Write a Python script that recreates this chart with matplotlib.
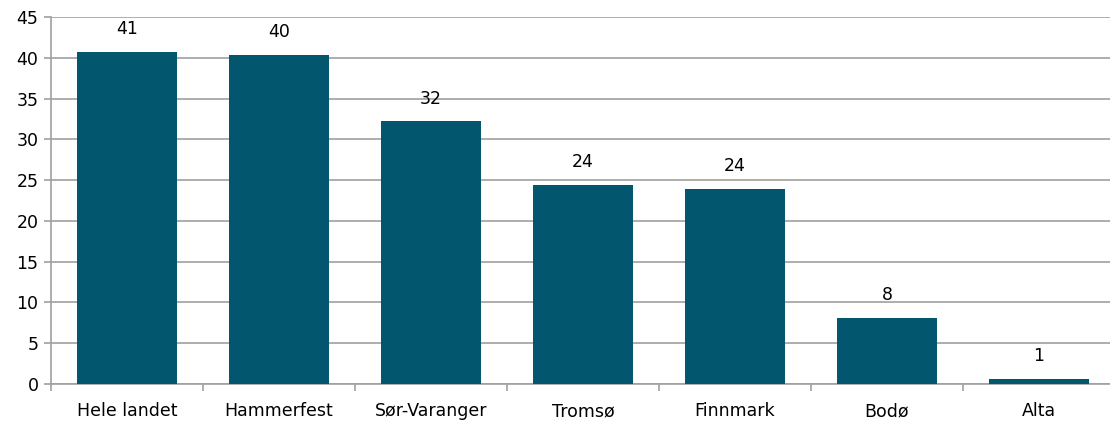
import numpy as np
import matplotlib.pyplot as plt

# Data
categories = ['Hele landet', 'Hammerfest', 'Sør-Varanger', 'Tromsø', 'Finnmark', 'Bodø', 'Alta']
values = [40.7, 40.3, 32.2, 24.4, 23.9, 8.1, 0.6]

plt.rcParams['font.family'] = ['DejaVu Sans']
plt.rcParams['font.size'] = 12.5

fig = plt.figure(figsize=(11.1, 4.23), dpi=100)
ax = fig.add_axes([51 / 1110, 1 - 384 / 423, 1064 / 1110, 367 / 423])

x = np.arange(len(categories))
bars = ax.bar(x, values, width=0.66, color='#02566E', zorder=3)

for xi, v in zip(x, values):
    ax.annotate(f'{v:.0f}', (xi, v), xytext=(0, 10), textcoords='offset points',
                ha='center', va='bottom')

ax.set_xlim(-0.5, len(categories) - 0.5)
ax.set_ylim(0, 45)
ax.set_yticks(np.arange(0, 46, 5))
ax.yaxis.grid(True, color='#A0A0A0', linewidth=1.2, zorder=0)

# category boundaries get the tick marks, labels sit in the middle
ax.set_xticks(np.arange(-0.5, len(categories), 1))
ax.set_xticklabels([])
ax.set_xticks(x, minor=True)
ax.set_xticklabels(categories, minor=True)
ax.tick_params(axis='x', which='minor', length=0, pad=13)
ax.tick_params(axis='x', which='major', length=5, color='#A0A0A0', width=1.2)
ax.tick_params(axis='y', length=5, color='#A0A0A0', width=1.2, pad=4)

for side in ['top', 'right']:
    ax.spines[side].set_visible(False)
for side in ['left', 'bottom']:
    ax.spines[side].set_color('#A0A0A0')
    ax.spines[side].set_linewidth(1.2)

fig.savefig('out.png', dpi=100)
